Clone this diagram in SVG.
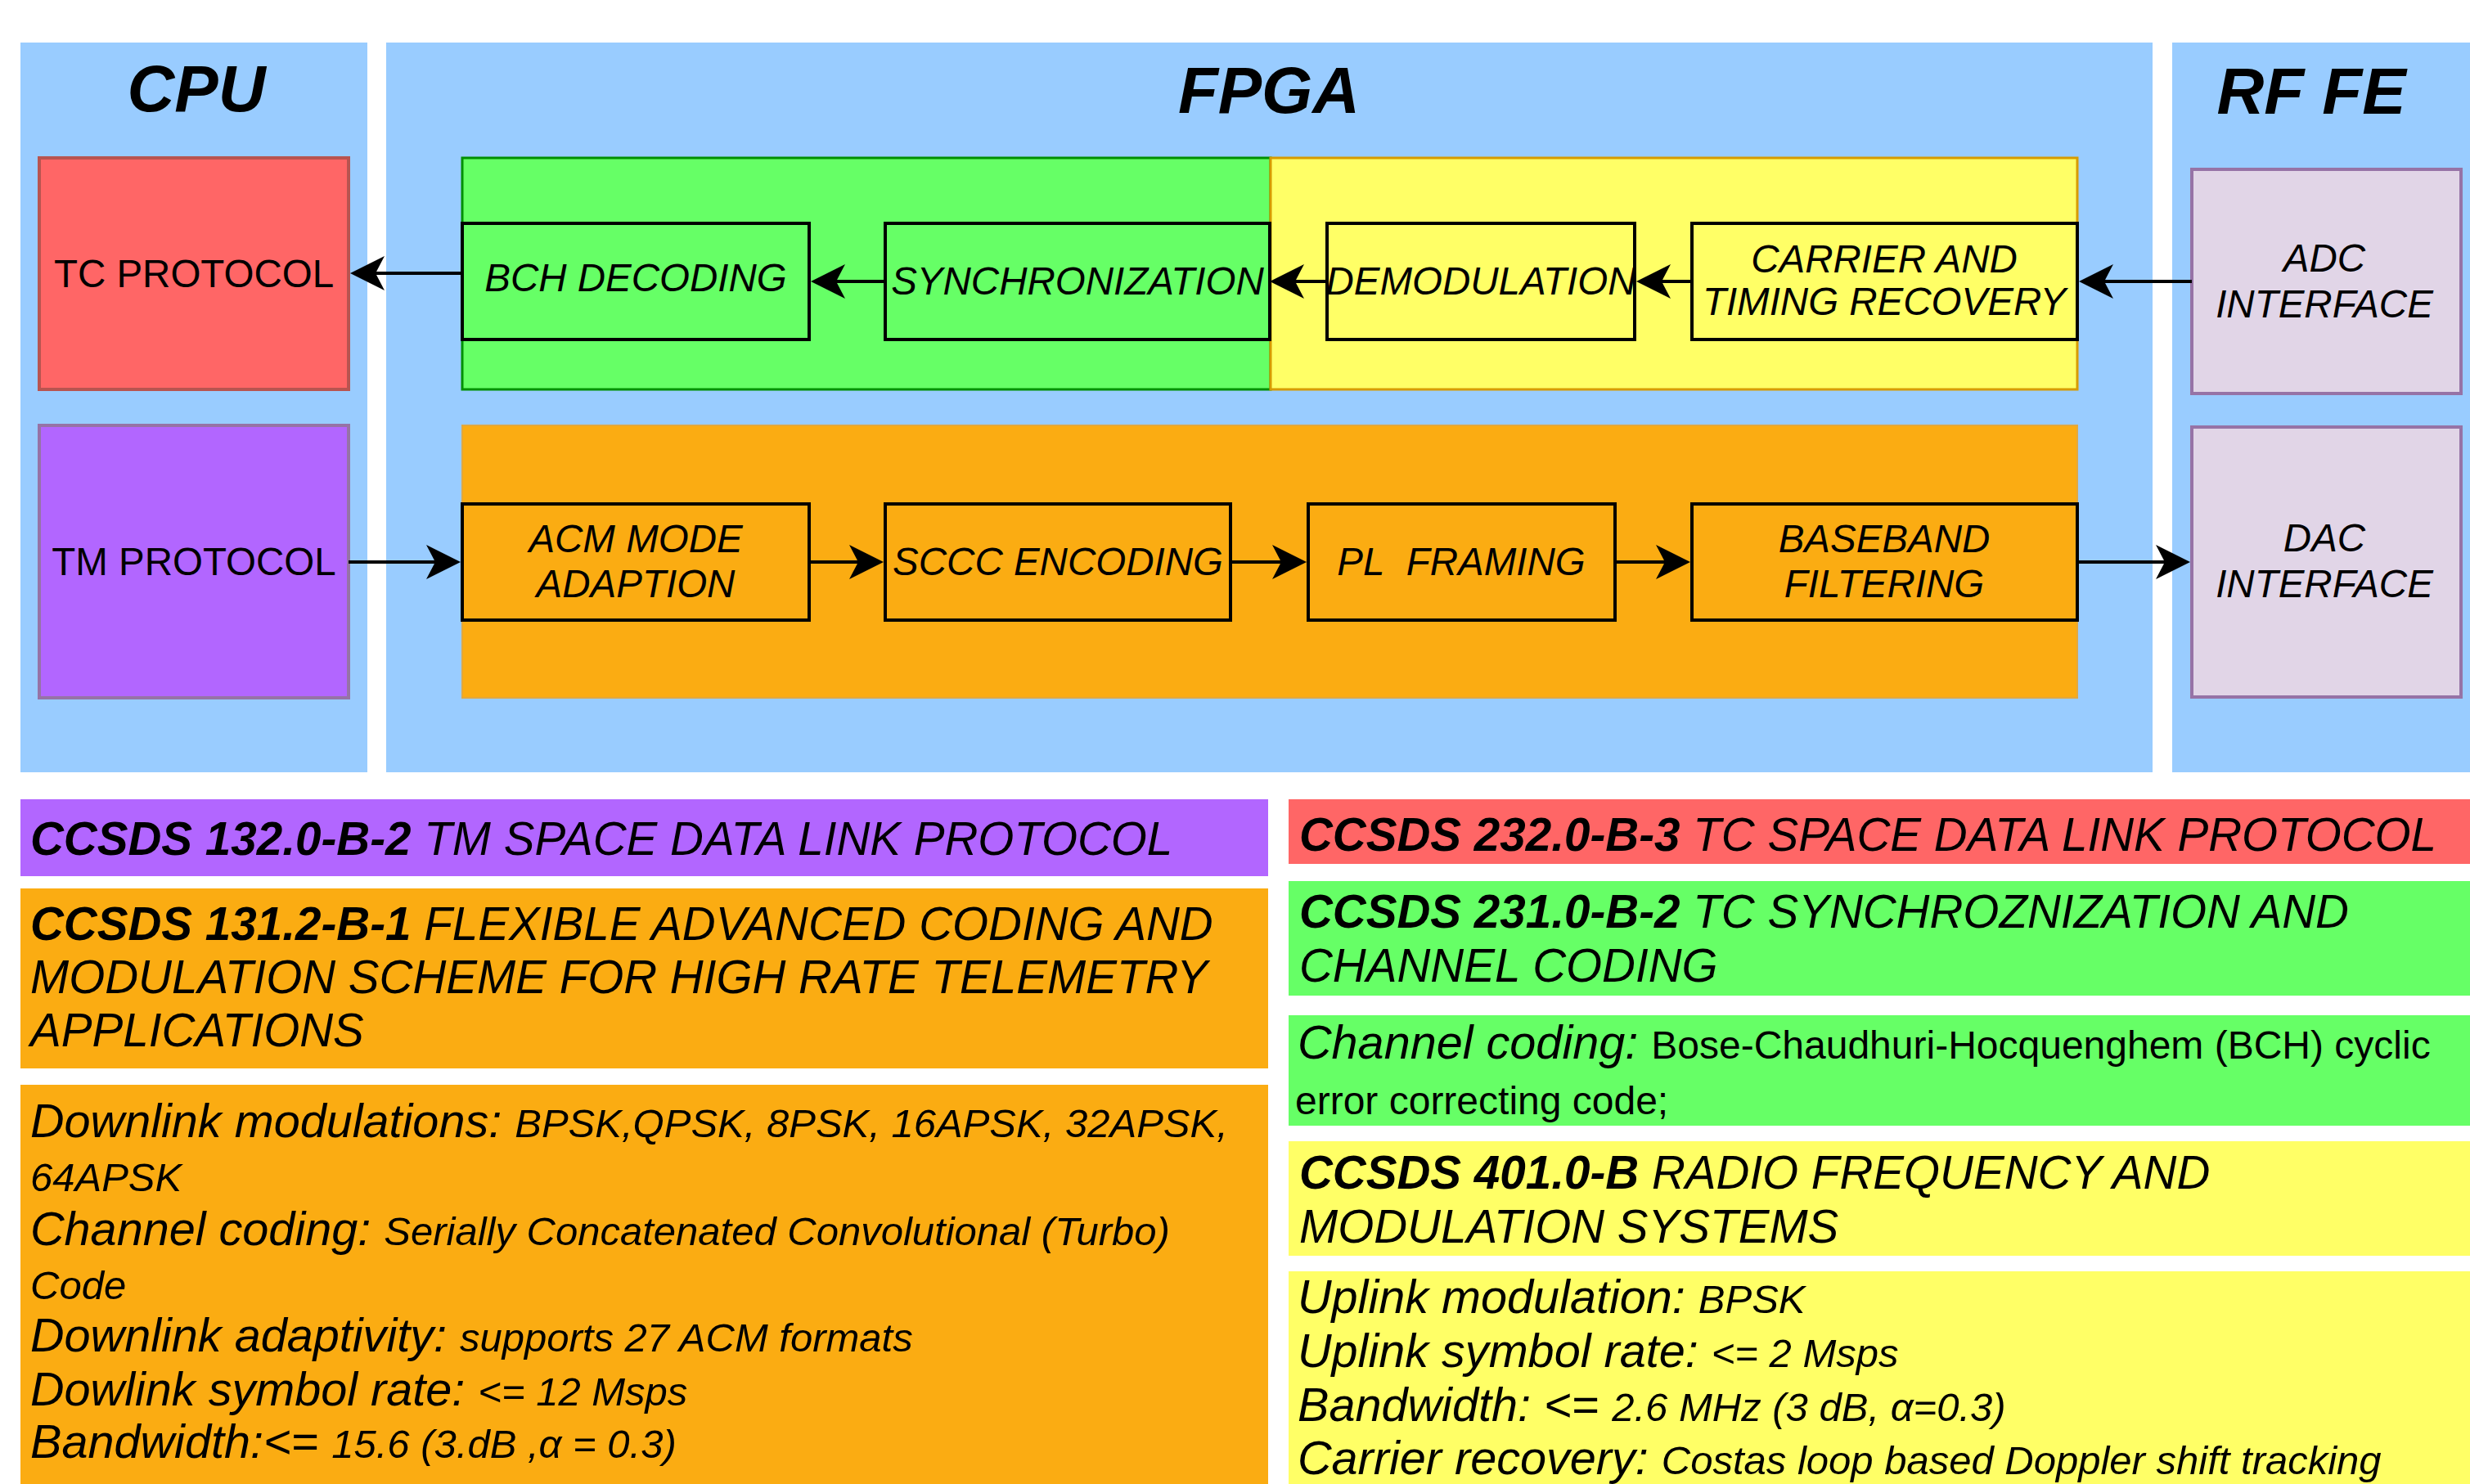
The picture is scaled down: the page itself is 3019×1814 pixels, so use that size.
<svg xmlns="http://www.w3.org/2000/svg" width="3019" height="1814" viewBox="0 0 3019 1814">
<style>
text{font-family:"Liberation Sans",Arial,Helvetica,sans-serif;fill:#000}
.panel{fill:#99CCFF}
.blk{fill:none;stroke:#000;stroke-width:4}
.title{font-size:80px;font-weight:bold;font-style:italic;text-anchor:middle}
.n{font-size:47.5px;text-anchor:middle}
.i{font-style:italic}
.hd{font-size:56.6px;font-style:italic}
.b{font-weight:bold}
.lab{font-size:57.6px;font-style:italic}
.val{font-size:49px;font-style:italic}
.up{font-size:48px;font-style:normal}
.conn line{stroke:#000;stroke-width:4;marker-end:url(#arr)}
</style>
<defs>
<marker id="arr" viewBox="0 0 42 42" refX="11" refY="21" markerWidth="42" markerHeight="42" markerUnits="userSpaceOnUse" orient="auto">
<path d="M0,0 L42,21 L0,42 L11,21 Z" fill="#000"/>
</marker>
</defs>
<rect width="3019" height="1814" fill="#fff"/>

<g id="cpu">
<rect class="panel" x="25" y="52" width="424" height="892"/>
<text class="title" x="240" y="136">CPU</text>
</g>
<g id="fpga">
<rect class="panel" x="472" y="52" width="2159" height="892"/>
<text class="title" x="1551" y="138">FPGA</text>
</g>
<g id="rffe">
<rect class="panel" x="2655" y="52" width="364" height="892"/>
<text class="title" x="2825" y="139">RF FE</text>
</g>

<g id="rx-group-green">
<rect x="565" y="193" width="988" height="283" fill="#66FF66" stroke="#009000" stroke-width="3"/>
</g>
<g id="rx-group-yellow">
<rect x="1553" y="193" width="986" height="283" fill="#FFFF66" stroke="#D79B00" stroke-width="3"/>
</g>
<g id="tx-group-orange">
<rect x="565" y="520" width="1974" height="333" fill="#FBAC12" stroke="#E0A840" stroke-width="2"/>
</g>

<g id="tc-protocol">
<rect x="48" y="193" width="378" height="283" fill="#FF6666" stroke="#B85450" stroke-width="4"/>
<text class="n" x="237" y="351">TC PROTOCOL</text>
</g>
<g id="tm-protocol">
<rect x="48" y="520" width="378" height="333" fill="#B266FF" stroke="#9673A6" stroke-width="4"/>
<text class="n" x="237" y="703">TM PROTOCOL</text>
</g>

<g id="bch-decoding">
<rect class="blk" x="565" y="273" width="424" height="142"/>
<text class="n i" x="777" y="356">BCH DECODING</text>
</g>
<g id="synchronization">
<rect class="blk" x="1082" y="273" width="470" height="142"/>
<text class="n i" x="1317" y="360">SYNCHRONIZATION</text>
</g>
<g id="demodulation">
<rect class="blk" x="1622" y="273" width="376" height="142"/>
<text class="n i" x="1810" y="360">DEMODULATION</text>
</g>
<g id="carrier-timing">
<rect class="blk" x="2068" y="273" width="471" height="142"/>
<text class="n i" x="2303" y="333">CARRIER AND</text>
<text class="n i" x="2303" y="385">TIMING RECOVERY</text>
</g>

<g id="acm-mode">
<rect class="blk" x="565" y="616" width="424" height="142"/>
<text class="n i" x="777" y="675">ACM MODE</text>
<text class="n i" x="777" y="730">ADAPTION</text>
</g>
<g id="sccc-encoding">
<rect class="blk" x="1082" y="616" width="422" height="142"/>
<text class="n i" x="1293" y="703">SCCC ENCODING</text>
</g>
<g id="pl-framing">
<rect class="blk" x="1599" y="616" width="375" height="142"/>
<text class="n i" x="1786" y="703">PL&#160; FRAMING</text>
</g>
<g id="baseband-filtering">
<rect class="blk" x="2068" y="616" width="471" height="142"/>
<text class="n i" x="2303" y="675">BASEBAND</text>
<text class="n i" x="2303" y="730">FILTERING</text>
</g>

<g id="adc-interface">
<rect x="2679" y="207" width="329" height="274" fill="#E1D5E7" stroke="#9673A6" stroke-width="4"/>
<text class="n i" x="2841" y="332">ADC</text>
<text class="n i" x="2841" y="388">INTERFACE</text>
</g>
<g id="dac-interface">
<rect x="2679" y="522" width="329" height="330" fill="#E1D5E7" stroke="#9673A6" stroke-width="4"/>
<text class="n i" x="2841" y="674">DAC</text>
<text class="n i" x="2841" y="730">INTERFACE</text>
</g>

<g id="connectors" class="conn">
<line x1="565" y1="334" x2="459" y2="334"/>
<line x1="1082" y1="344" x2="1022" y2="344"/>
<line x1="1622" y1="344" x2="1583" y2="344"/>
<line x1="2068" y1="344" x2="2031" y2="344"/>
<line x1="2679" y1="344" x2="2572" y2="344"/>
<line x1="426" y1="687" x2="532" y2="687"/>
<line x1="989" y1="687" x2="1049" y2="687"/>
<line x1="1504" y1="687" x2="1566" y2="687"/>
<line x1="1974" y1="687" x2="2035" y2="687"/>
<line x1="2539" y1="687" x2="2646" y2="687"/>
</g>

<g id="tm-sdlp">
<rect x="25" y="977" width="1525" height="94" fill="#B266FF"/>
<text class="hd" x="37" y="1045"><tspan class="b">CCSDS 132.0-B-2</tspan> TM SPACE DATA LINK PROTOCOL</text>
</g>
<g id="tm-coding-header">
<rect x="25" y="1086" width="1525" height="220" fill="#FBAC12"/>
<text class="hd" x="37" y="1149"><tspan class="b">CCSDS 131.2-B-1</tspan> FLEXIBLE ADVANCED CODING AND</text>
<text class="hd" x="37" y="1214">MODULATION SCHEME FOR HIGH RATE TELEMETRY</text>
<text class="hd" x="37" y="1279">APPLICATIONS</text>
</g>
<g id="tm-details">
<rect x="25" y="1326" width="1525" height="488" fill="#FBAC12"/>
<text x="37" y="1390"><tspan class="lab">Downlink modulations: </tspan><tspan class="val">BPSK,QPSK, 8PSK, 16APSK, 32APSK,</tspan></text>
<text x="37" y="1456"><tspan class="val">64APSK</tspan></text>
<text x="37" y="1522"><tspan class="lab">Channel coding: </tspan><tspan class="val">Serially Concatenated Convolutional (Turbo)</tspan></text>
<text x="37" y="1588"><tspan class="val">Code</tspan></text>
<text x="37" y="1652"><tspan class="lab">Downlink adaptivity: </tspan><tspan class="val">supports 27 ACM formats</tspan></text>
<text x="37" y="1718"><tspan class="lab">Dowlink symbol rate: </tspan><tspan class="val">&lt;= 12 Msps</tspan></text>
<text x="37" y="1782"><tspan class="lab">Bandwidth:&lt;= </tspan><tspan class="val">15.6 (3.dB ,α = 0.3)</tspan></text>
</g>

<g id="tc-sdlp">
<rect x="1575" y="977" width="1444" height="79" fill="#FF6666"/>
<text class="hd" x="1588" y="1040"><tspan class="b">CCSDS 232.0-B-3</tspan> TC SPACE DATA LINK PROTOCOL</text>
</g>
<g id="tc-sync-header">
<rect x="1575" y="1077" width="1444" height="140" fill="#66FF66"/>
<text class="hd" x="1588" y="1134"><tspan class="b">CCSDS 231.0-B-2</tspan> TC SYNCHROZNIZATION AND</text>
<text class="hd" x="1588" y="1200">CHANNEL CODING</text>
</g>
<g id="tc-sync-details">
<rect x="1575" y="1241" width="1444" height="135" fill="#66FF66"/>
<text x="1586" y="1294"><tspan class="lab">Channel coding: </tspan><tspan class="up">Bose-Chaudhuri-Hocquenghem (BCH) cyclic</tspan></text>
<text x="1583" y="1362"><tspan class="up">error correcting code;</tspan></text>
</g>
<g id="rf-header">
<rect x="1575" y="1395" width="1444" height="140" fill="#FFFF66"/>
<text class="hd" x="1588" y="1453"><tspan class="b">CCSDS 401.0-B</tspan> RADIO FREQUENCY AND</text>
<text class="hd" x="1588" y="1519">MODULATION SYSTEMS</text>
</g>
<g id="rf-details">
<rect x="1575" y="1554" width="1444" height="260" fill="#FFFF66"/>
<text x="1586" y="1605"><tspan class="lab">Uplink modulation: </tspan><tspan class="val">BPSK</tspan></text>
<text x="1586" y="1671"><tspan class="lab">Uplink symbol rate: </tspan><tspan class="val">&lt;= 2 Msps</tspan></text>
<text x="1586" y="1737"><tspan class="lab">Bandwidth: &lt;= </tspan><tspan class="val">2.6 MHz (3 dB, α=0.3)</tspan></text>
<text x="1586" y="1802"><tspan class="lab">Carrier recovery: </tspan><tspan class="val">Costas loop based Doppler shift tracking</tspan></text>
</g>
</svg>
